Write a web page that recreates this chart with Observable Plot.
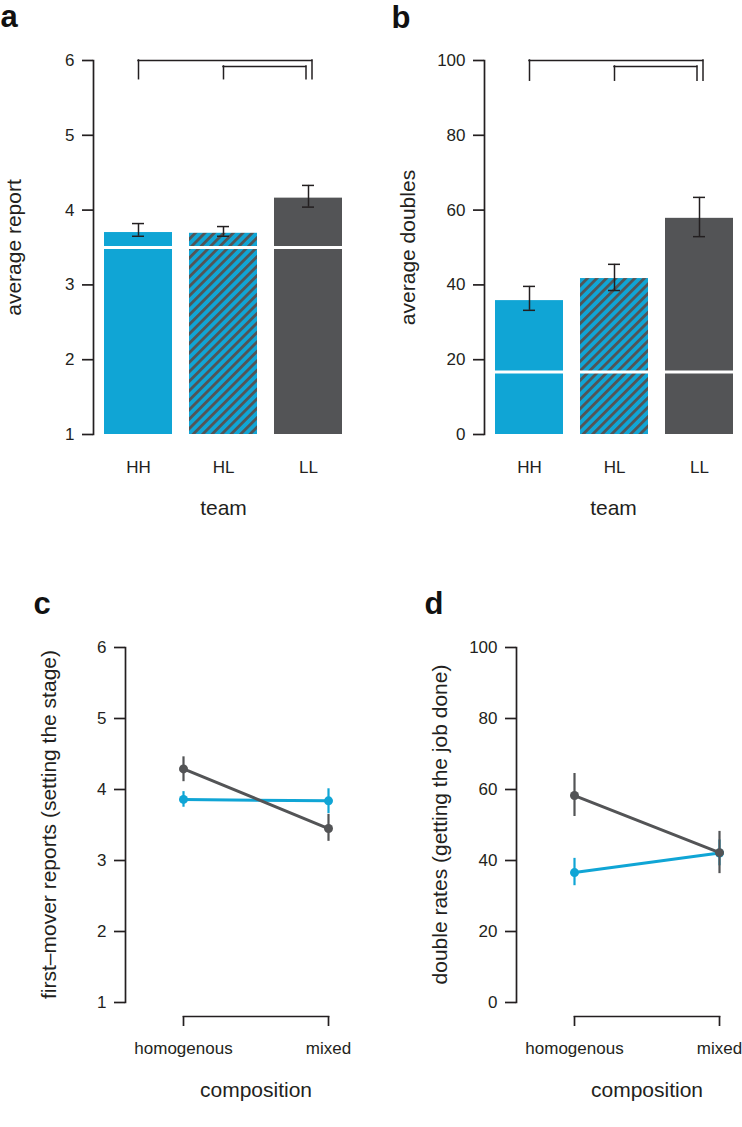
<!DOCTYPE html>
<html>
<head>
<meta charset="utf-8">
<script src="https://cdn.jsdelivr.net/npm/d3@7"></script>
<script src="https://cdn.jsdelivr.net/npm/@observablehq/plot@0.6"></script>
<style>
html, body { margin: 0; padding: 0; background: #fff; overflow: hidden; }
#root { position: relative; width: 742px; height: 1127px; }
.panel { position: absolute; }
</style>
</head>
<body>
<div id="root"></div>
<script>
// ---------- data ----------
const teams = ["HH", "HL", "LL"];

const reportMean = [3.70, 3.69, 4.16];
const reportLo   = [3.65, 3.65, 4.04];
const reportHi   = [3.82, 3.78, 4.33];
const reportChance = 3.5;
const reportTicks = [1, 2, 3, 4, 5, 6];
const reportBrackets = [
  {from: "HH", to: "LL", level: 6.0, drop: 5.75},
  {from: "HL", to: "LL", level: 5.92, drop: 5.75}
];

const doublesMean = [35.8, 41.7, 57.8];
const doublesLo   = [33.2, 38.5, 52.9];
const doublesHi   = [39.6, 45.5, 63.4];
const doublesChance = 16.7;
const doublesTicks = [0, 20, 40, 60, 80, 100];
const doublesBrackets = [
  {from: "HH", to: "LL", level: 100, drop: 94.6},
  {from: "HL", to: "LL", level: 98.4, drop: 94.6}
];

const compositions = ["homogenous", "mixed"];
const types = ["H", "L"];

const firstMoverMean = {H: [3.86, 3.84], L: [4.29, 3.45]};
const firstMoverLo   = {H: [3.75, 3.66], L: [4.11, 3.27]};
const firstMoverHi   = {H: [3.97, 4.01], L: [4.46, 3.65]};

const doubleRateMean = {H: [36.6, 42.1], L: [58.3, 42.2]};
const doubleRateLo   = {H: [32.9, 38.5], L: [52.4, 36.3]};
const doubleRateHi   = {H: [40.6, 45.8], L: [64.5, 48.2]};

// ---------- style ----------
const BLUE = "#10a5d5";
const GRAY = "#535456";
const INK = "#231f20";
const FONT = "'Liberation Sans', Arial, Helvetica, sans-serif";
const typeColor = {H: BLUE, L: GRAY};
const intFormat = d3.format("d");

function hatchDefs(id) {
  return () => {
    const ns = "http://www.w3.org/2000/svg";
    const defs = document.createElementNS(ns, "defs");
    const p = document.createElementNS(ns, "pattern");
    p.setAttribute("id", id);
    p.setAttribute("patternUnits", "userSpaceOnUse");
    p.setAttribute("width", "6.7");
    p.setAttribute("height", "6.7");
    p.setAttribute("patternTransform", "rotate(45)");
    const bg = document.createElementNS(ns, "rect");
    bg.setAttribute("width", "6.7"); bg.setAttribute("height", "6.7"); bg.setAttribute("fill", BLUE);
    const st = document.createElementNS(ns, "rect");
    st.setAttribute("width", "2.8"); st.setAttribute("height", "6.7"); st.setAttribute("fill", GRAY);
    p.appendChild(bg); p.appendChild(st); defs.appendChild(p);
    return defs;
  };
}

function place(svg, left, top) {
  const div = document.createElement("div");
  div.className = "panel";
  div.style.left = left + "px";
  div.style.top = top + "px";
  div.appendChild(svg);
  document.getElementById("root").appendChild(div);
}

const bracketRightDx = [3.5, -2.5];
const halfBand = 34;

function titleMarks(o, bottomTitle, bottomX) {
  return [
    Plot.text([o.label], {text: (d) => d, frameAnchor: "left", rotate: -90, textAnchor: "middle", lineAnchor: "middle", dx: o.labelDx, dy: o.labelDy || 0, fontSize: 21, fill: INK}),
    Plot.text([bottomTitle], {text: (d) => d, ...(bottomX ? {x: bottomX} : {}), frameAnchor: "bottom", textAnchor: "middle", lineAnchor: "middle", dy: 74, fontSize: 21, fill: INK}),
    Plot.text([o.letter], {text: (d) => d, frameAnchor: "top-left", dx: o.letterDx, dy: o.letterDy, fontSize: 31, fontWeight: "bold", textAnchor: "start", lineAnchor: "bottom", fill: "#111"})
  ];
}

function barPanel(o) {
  const data = teams.map((t, i) => ({team: t, mean: o.means[i], lo: o.los[i], hi: o.his[i]}));
  const base = o.ticks[0];
  const fillOf = {HH: BLUE, HL: `url(#${o.id})`, LL: GRAY};
  const marks = [
    hatchDefs(o.id),
    Plot.barY(data, {x: "team", y1: () => base, y2: "mean", fill: (d) => fillOf[d.team]}),
    Plot.tickY(data, {x: "team", y: () => o.chance, stroke: "#fff", strokeWidth: 3}),
    Plot.ruleX(data, {x: "team", y1: "lo", y2: "hi", stroke: INK, strokeWidth: 1.5}),
    Plot.tickY(data, {x: "team", y: "lo", stroke: INK, strokeWidth: 1.5, insetLeft: 28, insetRight: 28}),
    Plot.tickY(data, {x: "team", y: "hi", stroke: INK, strokeWidth: 1.5, insetLeft: 28, insetRight: 28})
  ];
  o.brackets.forEach((b, k) => {
    const st = {stroke: INK, strokeWidth: 1.5, strokeLinecap: "square"};
    marks.push(Plot.ruleX([b], {x: "from", y1: "drop", y2: "level", ...st}));
    marks.push(Plot.ruleX([b], {x: "to", y1: "drop", y2: "level", dx: bracketRightDx[k], ...st}));
    marks.push(Plot.ruleY([b], {x1: "from", x2: "to", y: "level", insetLeft: halfBand, insetRight: halfBand - bracketRightDx[k], ...st}));
  });
  marks.push(
    Plot.frame({anchor: "left", stroke: INK, strokeWidth: 1.7}),
    Plot.axisY({ticks: o.ticks, tickFormat: intFormat, tickSize: 11, tickPadding: 8, fontSize: 17, strokeWidth: 1.7, label: null}),
    Plot.axisX({tickSize: 0, tickPadding: 26, fontSize: 17, label: null}),
    ...titleMarks(o, "team")
  );
  const svg = Plot.plot({
    width: 371, height: 560,
    marginTop: 60, marginBottom: 126, marginLeft: o.marginLeft, marginRight: o.marginRight,
    style: {fontFamily: FONT, fontSize: "17px", color: INK, background: "transparent", overflow: "visible"},
    x: {domain: teams, paddingInner: 0.2, paddingOuter: o.paddingOuter, align: o.align},
    y: {domain: [o.ticks[0], o.ticks[o.ticks.length - 1]]},
    color: {type: "identity"},
    marks
  });
  place(svg, o.left, o.top);
}

function linePanel(o) {
  const marks = [];
  types.forEach((t) => {
    const rows = compositions.map((c, i) => ({type: t, pos: i, mean: o.mean[t][i], lo: o.lo[t][i], hi: o.hi[t][i]}));
    const c = typeColor[t];
    marks.push(
      Plot.ruleX(rows, {x: "pos", y1: "lo", y2: "hi", stroke: c, strokeWidth: 2.2}),
      Plot.lineY(rows, {x: "pos", y: "mean", stroke: c, strokeWidth: 3}),
      Plot.dot(rows, {x: "pos", y: "mean", r: 4.5, fill: c, stroke: "none"})
    );
  });
  marks.push(
    Plot.frame({anchor: "left", insetBottom: 14, stroke: INK, strokeWidth: 1.7}),
    Plot.frame({anchor: "bottom", insetLeft: 58, insetRight: o.insetRight, stroke: INK, strokeWidth: 1.7}),
    Plot.axisY({ticks: o.ticks, tickFormat: intFormat, tickSize: 11, tickPadding: 8, fontSize: 17, strokeWidth: 1.7, label: null}),
    Plot.axisX({ticks: compositions.map((c, i) => i), tickFormat: (i) => compositions[i], tickSize: 10, tickPadding: 15, fontSize: 17, strokeWidth: 1.7, label: null}),
    ...titleMarks(o, "composition", () => (compositions.length - 1) / 2)
  );
  const svg = Plot.plot({
    width: 371, height: 567,
    marginTop: 87, marginBottom: 111, marginLeft: o.marginLeft, marginRight: 0,
    insetBottom: 14, insetLeft: 58, insetRight: o.insetRight,
    style: {fontFamily: FONT, fontSize: "17px", color: INK, background: "transparent", overflow: "visible"},
    x: {domain: [0, compositions.length - 1]},
    y: {domain: [o.ticks[0], o.ticks[o.ticks.length - 1]]},
    marks
  });
  place(svg, o.left, o.top);
}

barPanel({
  id: "hatch-a", left: 0, top: 0, ticks: reportTicks,
  means: reportMean, los: reportLo, his: reportHi, chance: reportChance, brackets: reportBrackets,
  label: "average report", letter: "a", labelDx: -79, letterDx: -93, letterDy: -34,
  marginLeft: 93, marginRight: 18, paddingOuter: 0.129, align: 0.5
});
barPanel({
  id: "hatch-b", left: 371, top: 0, ticks: doublesTicks,
  means: doublesMean, los: doublesLo, his: doublesHi, chance: doublesChance, brackets: doublesBrackets,
  label: "average doubles", letter: "b", labelDx: -76, letterDx: -93, letterDy: -33,
  marginLeft: 113, marginRight: 0, paddingOuter: 0.1176, align: 0.55
});
linePanel({
  left: 0, top: 560, ticks: reportTicks, mean: firstMoverMean, lo: firstMoverLo, hi: firstMoverHi,
  label: "first\u2013mover reports (setting the stage)", letter: "c", labelDx: -76, labelDy: -7.5, letterDx: -92, letterDy: -34,
  marginLeft: 125, insetRight: 43
});
linePanel({
  left: 371, top: 560, ticks: doublesTicks, mean: doubleRateMean, lo: doubleRateLo, hi: doubleRateHi,
  label: "double rates (getting the job done)", letter: "d", labelDx: -76, labelDy: -7.5, letterDx: -92, letterDy: -34,
  marginLeft: 145, insetRight: 23
});
</script>
</body>
</html>
